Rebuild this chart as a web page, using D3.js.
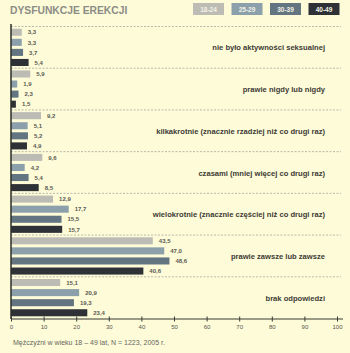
<!DOCTYPE html>
<html>
<head>
<meta charset="utf-8">
<script src="https://cdn.jsdelivr.net/npm/d3@7"></script>
<style>
  body { margin: 0; background: #fdfbd8; }
  text { font-family: "Liberation Sans", Arial, sans-serif; }
</style>
</head>
<body>
<div id="chart"></div>
<script>
// data
const categories = [
  "nie było aktywności seksualnej",
  "prawie nigdy lub nigdy",
  "kilkakrotnie (znacznie rzadziej niż co drugi raz)",
  "czasami (mniej więcej co drugi raz)",
  "wielokrotnie (znacznie częściej niż co drugi raz)",
  "prawie zawsze lub zawsze",
  "brak odpowiedzi"
];
const ageGroups = ["18-24", "25-29", "30-39", "40-49"];
const v1824 = [3.3, 5.9, 9.2, 9.6, 12.9, 43.5, 15.1];
const v2529 = [3.3, 1.9, 5.1, 4.2, 17.7, 47.0, 20.9];
const v3039 = [3.7, 2.3, 5.2, 5.4, 15.5, 48.6, 19.3];
const v4049 = [5.4, 1.5, 4.9, 8.5, 15.7, 40.6, 23.4];
const xTicks = [0, 10, 20, 30, 40, 50, 60, 70, 80, 90, 100];
const colors = ["#bcbcb5", "#8ba0ab", "#627581", "#2e3236"];

const series = [v1824, v2529, v3039, v4049];
const rows = [];
categories.forEach((c, i) => {
  ageGroups.forEach((a, j) => rows.push({cat: c, age: a, value: series[j][i]}));
});

const W = 350, H = 353;
const svg = d3.select("#chart").append("svg")
  .attr("width", W).attr("height", H);

svg.append("rect").attr("width", W).attr("height", H).attr("fill", "#fdfbd8");

// scales
const x = d3.scaleLinear().domain([0, 100]).range([11, 337]);
const y = d3.scaleBand().domain(categories).range([26.5, 318.5]);
const yIn = d3.scaleBand().domain(ageGroups).range([0, y.bandwidth()])
  .paddingInner(0.3).paddingOuter(0.22);
const color = d3.scaleOrdinal().domain(ageGroups).range(colors);

// title
svg.append("text")
  .attr("x", 10).attr("y", 14)
  .attr("font-size", "10.3px").attr("font-weight", "bold")
  .attr("fill", "#8c8c86")
  .text("DYSFUNKCJE EREKCJI");

// legend
const leg = svg.append("g");
ageGroups.forEach((a, i) => {
  const lx = 193 + i * 38.5;
  leg.append("rect")
    .attr("x", lx).attr("y", 3).attr("width", 31).attr("height", 12)
    .attr("fill", color(a));
  leg.append("text")
    .attr("x", lx + 15.5).attr("y", 11.5)
    .attr("text-anchor", "middle")
    .attr("font-size", "6.5px").attr("font-weight", "bold")
    .attr("fill", "#f4f2e6")
    .text(a);
});

// dashed separators
svg.append("g").selectAll("line")
  .data(categories)
  .enter().append("line")
  .attr("x1", x(0)).attr("x2", 341)
  .attr("y1", d => y(d)).attr("y2", d => y(d))
  .attr("stroke", "#a8a8a0").attr("stroke-width", 0.8)
  .attr("stroke-dasharray", "2,1.5");

// bars
svg.append("g").selectAll("rect")
  .data(rows)
  .enter().append("rect")
  .attr("x", x(0))
  .attr("y", d => y(d.cat) + yIn(d.age))
  .attr("width", d => x(d.value) - x(0))
  .attr("height", yIn.bandwidth())
  .attr("fill", d => color(d.age));

// value labels
svg.append("g").selectAll("text")
  .data(rows)
  .enter().append("text")
  .attr("x", d => x(d.value) + 6)
  .attr("y", d => y(d.cat) + yIn(d.age) + yIn.bandwidth() / 2 + 2.2)
  .attr("font-size", "6px").attr("font-weight", "bold")
  .attr("fill", "#5a5a52")
  .text(d => d3.format(".1f")(d.value).replace(".", ","));

// category labels
svg.append("g").selectAll("text")
  .data(categories)
  .enter().append("text")
  .attr("x", 325)
  .attr("y", d => y(d) + y.bandwidth() / 2 + 3)
  .attr("text-anchor", "end")
  .attr("font-size", "7.6px").attr("font-weight", "bold")
  .attr("fill", "#3d3b36")
  .text(d => d);

// y axis line
svg.append("line")
  .attr("x1", x(0)).attr("x2", x(0))
  .attr("y1", 24).attr("y2", 319)
  .attr("stroke", "#2e2e2a").attr("stroke-width", 1.5);

// x axis
const xAxis = svg.append("g")
  .attr("transform", "translate(0,319)")
  .call(d3.axisBottom(x).tickValues(xTicks).tickSize(2.5).tickSizeOuter(0));
xAxis.select(".domain").remove();
xAxis.append("line")
  .attr("x1", x(0)).attr("x2", 343)
  .attr("stroke", "#3a3a35").attr("stroke-width", 1.2);
xAxis.selectAll(".tick line")
  .attr("y1", -2.5).attr("y2", 2.5)
  .attr("stroke", "#3a3a35");
xAxis.selectAll(".tick text")
  .attr("y", 6)
  .attr("font-size", "6px")
  .attr("fill", "#55554e")
  .attr("font-family", "Liberation Sans, Arial, sans-serif");

// footnote
svg.append("text")
  .attr("x", 13).attr("y", 345)
  .attr("font-size", "7px")
  .attr("fill", "#66665e")
  .text("Mężczyźni w wieku 18 – 49 lat, N = 1223, 2005 r.");
</script>
</body>
</html>
